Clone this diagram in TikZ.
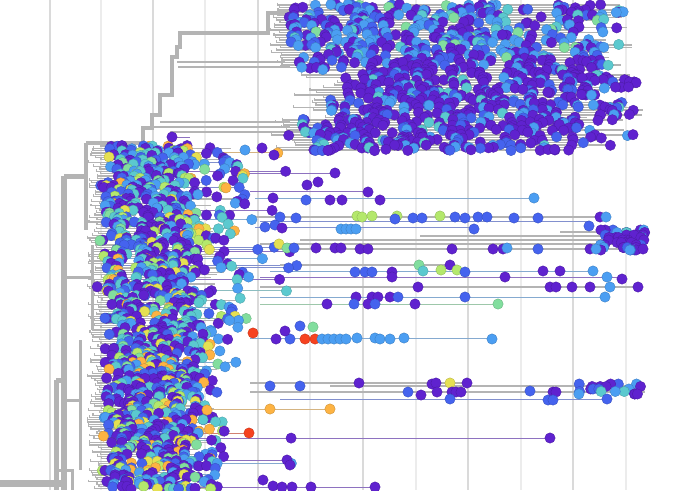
\documentclass[tikz,border=0pt]{standalone}
\usepackage{tikz}
\usepackage{xcolor}
\usetikzlibrary{backgrounds}

\definecolor{cP}{HTML}{5F22CF}
\definecolor{cB}{HTML}{4563EE}
\definecolor{cL}{HTML}{4B9EF2}
\definecolor{cT}{HTML}{5BC9CF}
\definecolor{cM}{HTML}{82DE9E}
\definecolor{cG}{HTML}{B4E86C}
\definecolor{cY}{HTML}{E5E052}
\definecolor{cO}{HTML}{FDB343}
\definecolor{cR}{HTML}{F6421F}
\definecolor{branchgray}{HTML}{B4B4B4}
\definecolor{gridgray}{HTML}{DADADA}

\pgfmathdeclarerandomlist{topmixA}{{cP}{cP}{cP}{cP}{cP}{cP}{cP}{cP}{cB}{cB}{cB}{cB}{cL}{cL}{cL}{cL}{cL}{cL}{cT}{cM}}
\pgfmathdeclarerandomlist{topmixB}{{cP}{cP}{cP}{cP}{cP}{cP}{cP}{cP}{cP}{cP}{cP}{cP}{cP}{cB}{cB}{cB}{cL}{cL}{cL}{cT}}
\pgfmathdeclarerandomlist{midmix}{{cP}{cP}{cP}{cP}{cP}{cP}{cP}{cB}{cB}{cB}{cB}{cL}{cL}{cL}{cT}{cT}{cT}{cM}{cG}{cY}{cO}{cP}}

\begin{document}
\begin{tikzpicture}[x=1pt, y=-1pt,
  gridline/.style={draw=gridgray, line width=1.5pt},
  gridfaint/.style={draw=gridgray!50, line width=1.3pt},
  branch/.style={draw=branchgray, line width=#1},
  branch/.default=1.2,
  stem/.style={draw=#1!45!branchgray, line width=1pt},
  tip/.style={fill=#1, draw=#1!80!black, line width=0.35pt},
]
\pgfmathsetseed{11}
\useasboundingbox (0,0) rectangle (700,490);
\clip (0,0) rectangle (700,490);

% time grid
\begin{pgfonlayer}{background}
\foreach \gx [count=\gi] in {50,101,153,205,258,310,363,416,468,521,573,626} {
  \ifodd\gi
    \draw[gridline] (\gx,0) -- (\gx,490);
  \else
    \draw[gridfaint] (\gx,0) -- (\gx,490);
  \fi
}

% backbone
\draw[branch=7] (0,483) -- (64,483);
\draw[branch=6] (64,176) -- (64,490);
\draw[branch=5] (56,380) -- (56,490);
\draw[branch=5] (56,380) -- (64,380);
\draw[branch=5] (64,176) -- (86,176);
\draw[branch=4] (86,143) -- (86,230);
\draw[branch=4] (86,143) -- (143,143);
\draw[branch=3] (64,277) -- (92,277);
\draw[branch=3] (92,245) -- (92,330);
\draw[branch=3] (64,400) -- (80,400);
\draw[branch=3] (80,340) -- (80,470);
\draw[branch=3] (56,470) -- (72,470) -- (72,490);

% upper clade staircase
\draw[branch=3.5] (143,143) -- (143,128) -- (152,128) -- (152,115) -- (160,115)
  -- (160,95) -- (172,95) -- (172,57) -- (177,57) -- (177,47) -- (180,47)
  -- (180,33) -- (268,33) -- (268,13) -- (290,13);
\draw[branch=2] (177,62) -- (285,62);
\draw[branch=2] (178,67) -- (290,67);
\draw[branch=2] (160,122) -- (290,122);
\draw[branch=2] (152,127) -- (290,127);
\draw[branch=2] (170,132) -- (300,132);
\draw[stem=cP] (172,137) -- (190,137);
\end{pgfonlayer}

% upper clade rows
\foreach \y in {5,7.5,...,150} {
  \pgfmathsetmacro\xa{\y<70 ? 284+12*rnd : (\y<118 ? 300+60*rnd : 285+25*rnd)}
  \pgfmathsetmacro\xe{565+80*rnd}
  \pgfmathsetmacro\xl{\xa-14}
  \begin{pgfonlayer}{background}
    \draw[branch=1.1] (\xl,\y-2.5) -- (\xl,\y) -- (\xe,\y);
  \end{pgfonlayer}
  \foreach \k in {1,...,18} {
    \ifdim\y pt<60pt \pgfmathrandomitem{\cc}{topmixA}\else \pgfmathrandomitem{\cc}{topmixB}\fi
    \pgfmathsetmacro\dx{\xa+(\xe-\xa)*rnd}
    \pgfmathsetmacro\dy{\y+1.4*rnd-0.7}
    \fill[tip=\cc] (\dx,\dy) circle (5.2pt);
  }
}

% lower clade rows
\foreach \y in {146,148.3,...,490} {
  \pgfmathsetmacro\xb{87+15*rnd}
  \pgfmathsetmacro\xs{\xb+8+8*rnd}
  \pgfmathsetmacro\xw{\y<330 ? 140 : 115}
  \pgfmathsetmacro\xt{\xs+\xw*rnd}
  \pgfmathtruncatemacro\isfar{rnd<0.18}
  \pgfmathsetmacro\xf{200+100*rnd}
  \begin{pgfonlayer}{background}
    \draw[branch=1.2] (\xb,\y-2.3) -- (\xb,\y) -- (\xt,\y);
  \end{pgfonlayer}
  \ifnum\isfar=1
    \pgfmathrandomitem{\cc}{midmix}
    \begin{pgfonlayer}{background}
      \draw[stem=\cc] (\xt,\y) -- (\xf,\y);
    \end{pgfonlayer}
    \fill[tip=\cc] (\xf,\y) circle (5.2pt);
  \fi
  \foreach \k in {1,...,9} {
    \pgfmathrandomitem{\cc}{midmix}
    \pgfmathsetmacro\dx{\k<7 ? \xs+90*rnd : \xs+\xw*rnd}
    \pgfmathsetmacro\dy{\y+rnd-0.5}
    \fill[tip=\cc] (\dx,\dy) circle (5.2pt);
  }
}

% long branches reaching right
\begin{pgfonlayer}{background}
\foreach \ly/\la/\lb in {217/250/606, 240/300/645, 244/260/645, 249/270/643,
    236/420/645, 232/560/645, 265/280/450, 287/260/638, 383/250/467,
    386/330/645, 392/250/645} {
  \draw[branch=2] (\la,\ly) -- (\lb,\ly);
}
\foreach \ly/\la/\lb/\lc in {173/240/335/cP, 191/250/368/cP, 198/255/534/cL,
    221/260/590/cB, 227/255/474/cB, 271/270/593/cL, 277/260/622/cP,
    297/260/605/cL, 304/260/498/cM, 338/250/492/cL, 399/280/606/cB,
    409/200/330/cO, 433/200/249/cR, 438/200/550/cP, 460/220/290/cP,
    487/200/375/cP} {
  \draw[stem=\lc] (\la,\ly) -- (\lb,\ly);
}
\end{pgfonlayer}

% small clusters at the right edge
\foreach \y in {230,232.5,...,250} {
  \foreach \k in {1,...,5} {
    \pgfmathrandomitem{\cc}{topmixB}
    \pgfmathsetmacro\dx{598+47*rnd}
    \fill[tip=\cc] (\dx,\y) circle (5.2pt);
  }
}
\foreach \y in {384,386.5,...,394} {
  \foreach \k in {1,...,4} {
    \pgfmathrandomitem{\cc}{topmixB}
    \pgfmathsetmacro\dx{575+70*rnd}
    \fill[tip=\cc] (\dx,\y) circle (5.2pt);
  }
}

% single tips
\foreach \dx/\dy/\dc in {172/137/cP, 274/155/cP, 262/148/cP, 245/150/cL,
    318/182/cP, 307/185/cP, 335/173/cP, 368/192/cP, 273/198/cP, 306/200/cB,
    330/200/cP, 342/200/cP, 380/200/cP, 534/198/cL,
    357/216/cG, 362/217/cG, 372/216/cG, 397/216/cG, 395/219/cB, 413/218/cB,
    422/218/cB, 440/216/cG, 455/217/cB, 465/218/cB, 478/217/cB, 487/217/cB,
    514/218/cB, 538/218/cB, 600/217/cP, 606/217/cL, 296/218/cB, 280/217/cB,
    265/227/cB, 275/225/cB, 282/228/cP, 341/229/cL, 346/229/cL, 351/229/cL,
    356/229/cL, 474/229/cB, 589/226/cB,
    279/244/cY, 287/248/cM, 294/248/cB, 316/248/cP, 335/248/cP, 341/248/cP,
    360/249/cP, 368/249/cP, 452/249/cP, 493/249/cP, 503/249/cP, 507/248/cL,
    538/249/cB, 590/249/cP, 596/249/cL, 643/249/cP,
    419/265/cM, 450/265/cP, 423/271/cT, 441/270/cG, 457/270/cG, 465/272/cB,
    392/272/cP, 543/271/cP, 560/271/cP, 593/271/cL, 355/272/cB, 365/272/cB,
    372/272/cB, 392/277/cP, 505/277/cP, 607/277/cL, 622/279/cP,
    418/287/cP, 550/287/cP, 556/287/cP, 572/287/cP, 590/287/cP, 610/287/cL,
    638/287/cP, 356/297/cP, 372/297/cP, 378/297/cP, 390/297/cP, 398/297/cB,
    465/297/cB, 605/297/cL, 354/304/cB, 368/304/cP, 375/304/cB, 415/304/cP,
    498/304/cM, 327/304/cP, 300/326/cB, 313/327/cM,
    276/339/cP, 290/339/cB, 305/339/cR, 315/339/cR, 322/339/cL, 328/339/cL,
    334/339/cL, 340/339/cL, 346/339/cL, 357/338/cL, 375/338/cL, 380/339/cL,
    390/339/cL, 404/338/cL, 492/339/cL, 253/333/cR, 285/331/cP,
    359/383/cP, 432/384/cP, 436/383/cP, 450/383/cY, 467/383/cP, 408/392/cB,
    421/395/cP, 437/392/cP, 452/392/cP, 456/392/cP, 461/392/cP, 530/391/cB,
    553/392/cP, 556/392/cP, 450/399/cB, 548/400/cB, 553/400/cB, 607/399/cB,
    270/386/cB, 300/386/cB,
    207/410/cO, 270/409/cO, 330/409/cO, 249/433/cR, 550/438/cP, 287/460/cP,
    290/465/cP, 263/480/cP, 273/486/cP, 282/487/cP, 292/487/cP, 311/487/cP,
    375/487/cP} {
  \fill[tip=\dc] (\dx,\dy) circle (5.2pt);
}
\end{tikzpicture}
\end{document}
